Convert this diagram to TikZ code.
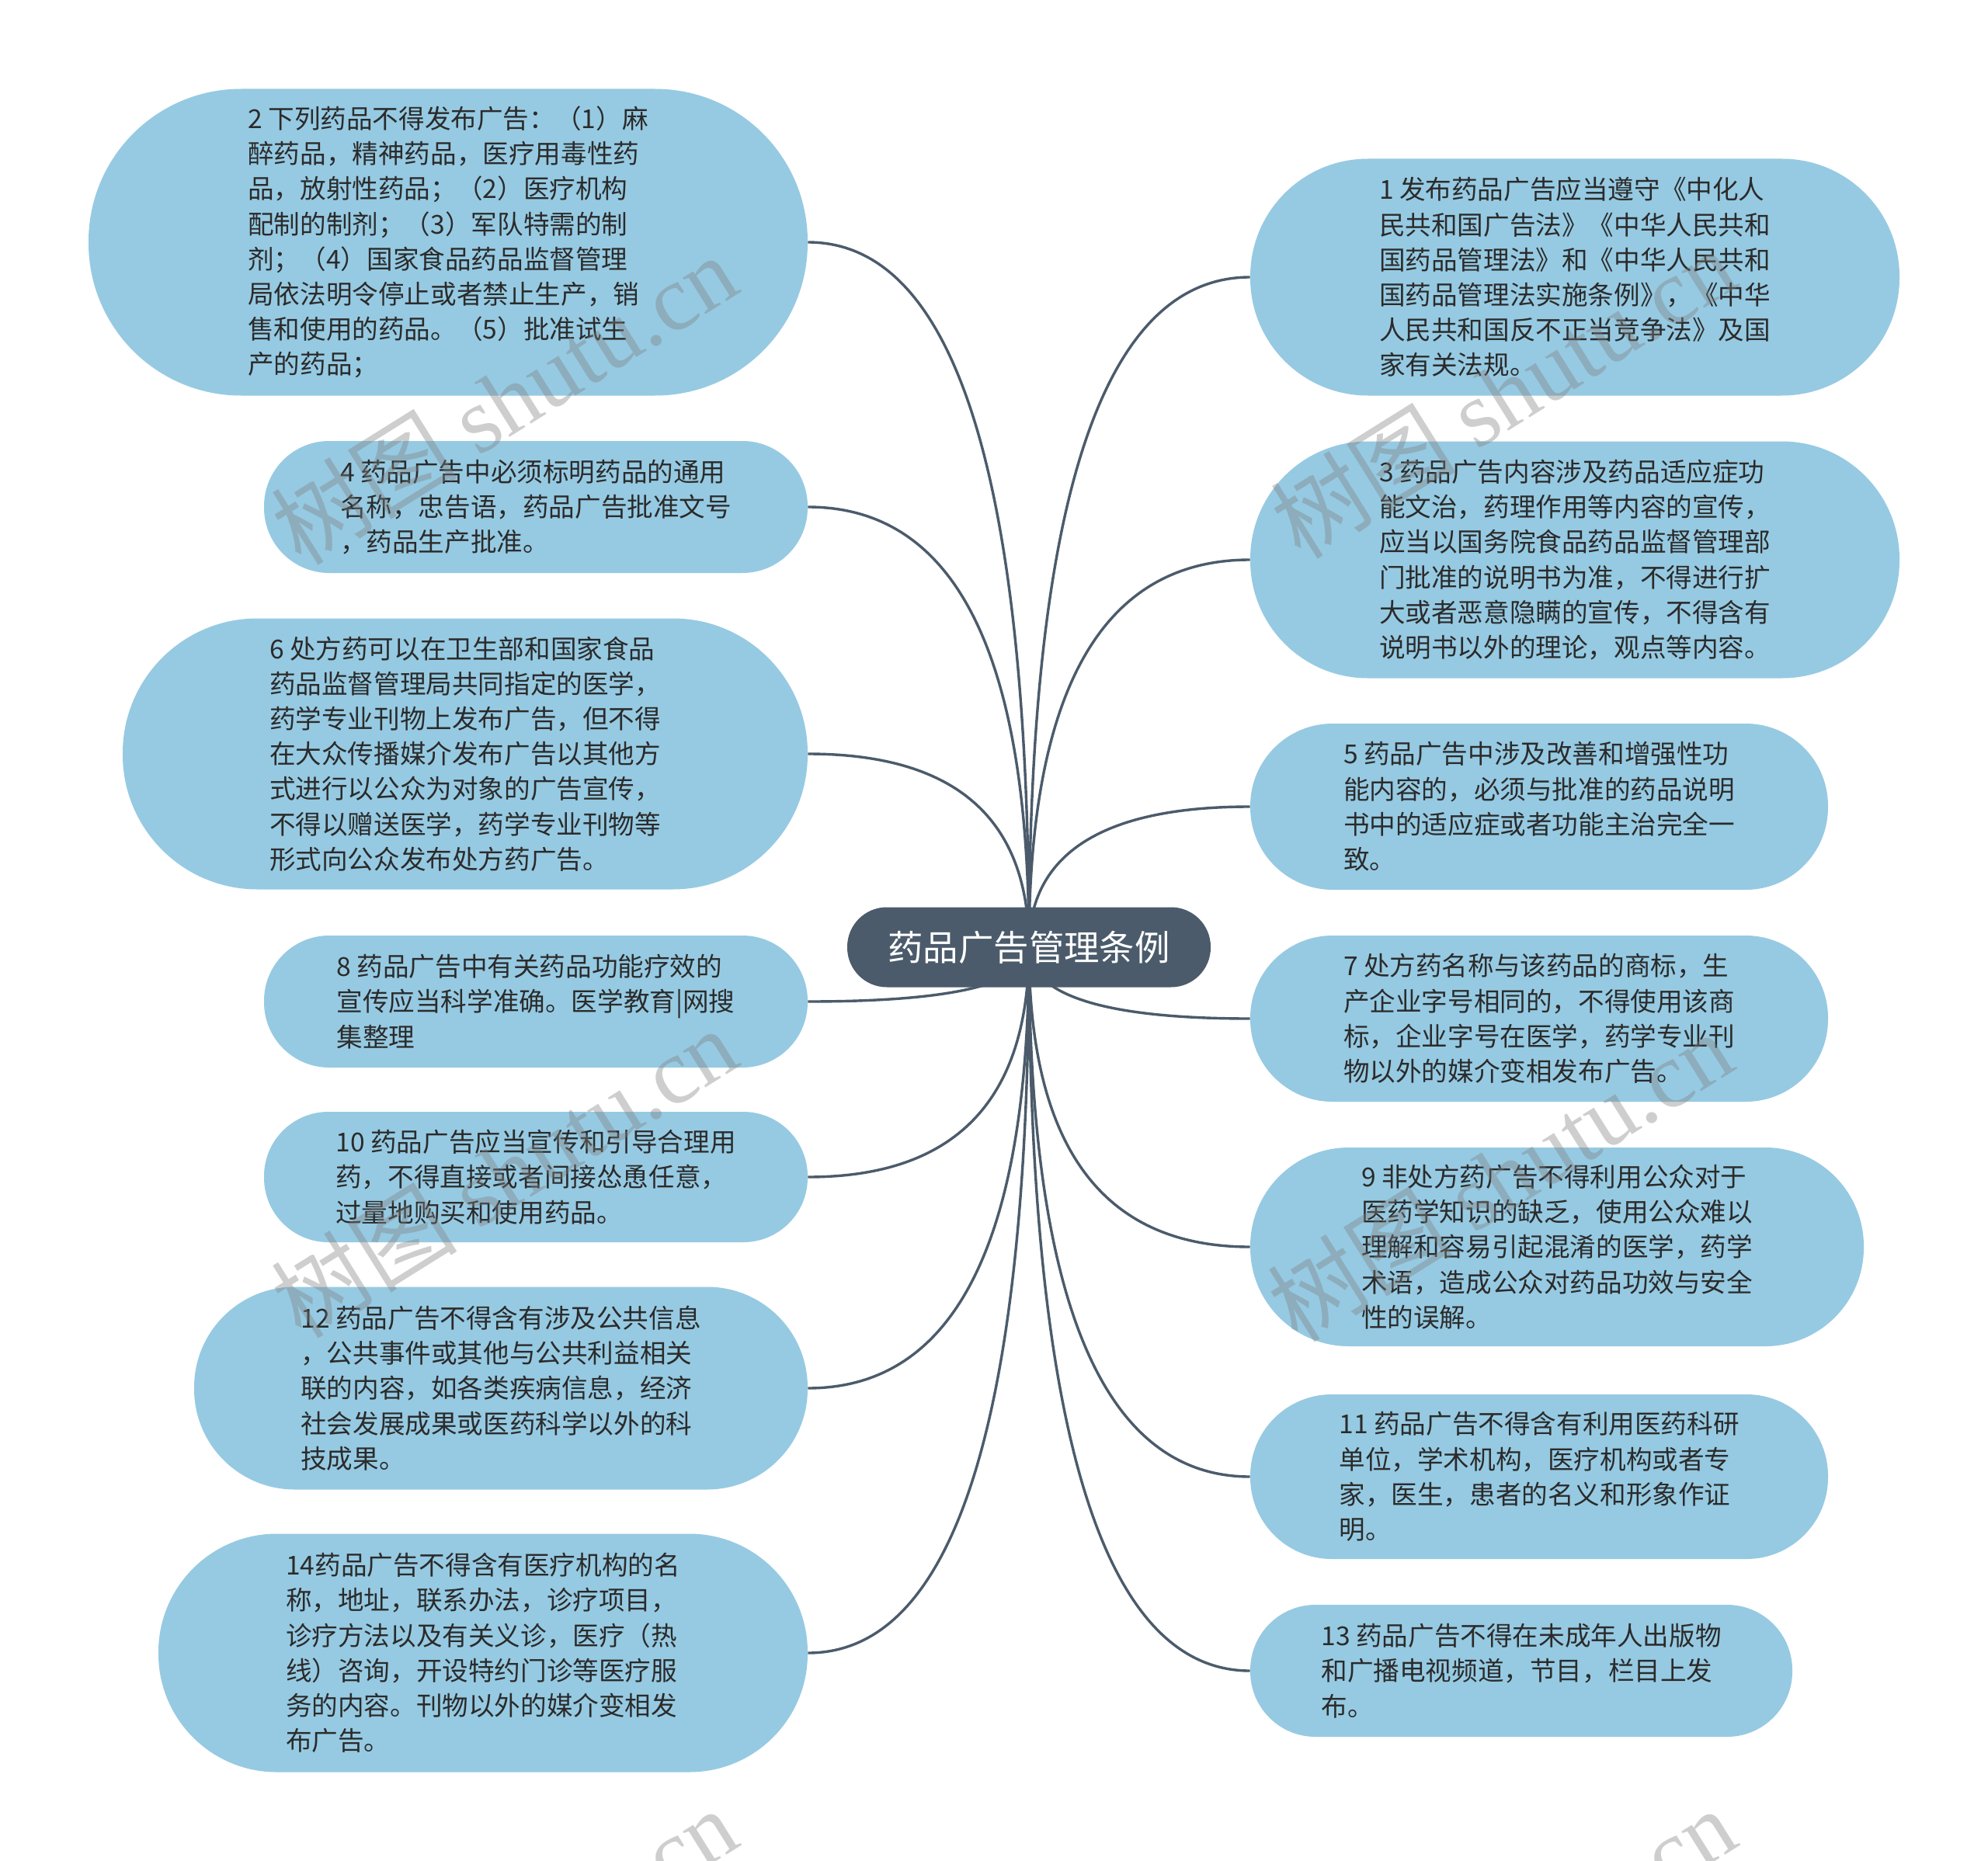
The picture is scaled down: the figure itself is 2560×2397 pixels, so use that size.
\documentclass[tikz,border=0pt]{standalone}
\usepackage{fontspec}
\setmainfont{Noto Sans CJK SC}
\newfontfamily\wmlatin{Liberation Serif}
\newfontfamily\wmcjk{Noto Sans CJK SC}
\usetikzlibrary{calc}
\pgfdeclarelayer{bg}
\pgfsetlayers{bg,main}
\definecolor{leafblue}{HTML}{96CAE2}
\definecolor{rootc}{HTML}{4B5B6B}
\definecolor{linec}{HTML}{4B5B6B}
\definecolor{txt}{HTML}{2B2B2B}
\tikzset{
  leaf/.style={fill=leafblue, text=txt, inner sep=0pt, align=left,
    font=\fontsize{16.8pt}{22.6pt}\selectfont},
  rootbox/.style={fill=rootc, text=white, inner sep=0pt,
    minimum width=234pt, minimum height=51.5pt, rounded corners=25.5pt,
    font=\fontsize{22.7pt}{27pt}\selectfont},
  conn/.style={draw=linec, line width=1.7pt},
  wm/.style={text=black!50, text opacity=0.38, rotate=32, inner sep=0pt,
    font=\fontsize{60pt}{70pt}\selectfont},
}
\newcommand\linkto[1]{%
  \coordinate (k) at (r.center |- #1);
  \draw[conn] (r.center) .. controls ($(r.center)!0.6667!(k)$) and ($(#1)!0.6667!(k)$) .. (#1);}
\begin{document}
\begin{tikzpicture}[x=0.5pt,y=-0.5pt]
\useasboundingbox (0,0) rectangle (2560,2397);
\begin{pgfonlayer}{bg}
\fill[white] (0,0) rectangle (2560,2397);
\end{pgfonlayer}

\node[rootbox] (r) at (1325,1220) {药品广告管理条例};

% left side
\node[leaf, minimum width=463pt, minimum height=197.5pt, rounded corners=98.2pt] (n2) at (577,312) {2 下列药品不得发布广告：（1）麻\\醉药品，精神药品，医疗用毒性药\\品，放射性药品；（2）医疗机构\\配制的制剂；（3）军队特需的制\\剂；（4）国家食品药品监督管理\\局依法明令停止或者禁止生产，销\\售和使用的药品。（5）批准试生\\产的药品；};
\node[leaf, minimum width=350pt, minimum height=85pt, rounded corners=42pt] (n4) at (690,653) {4 药品广告中必须标明药品的通用\\名称，忠告语，药品广告批准文号\\，药品生产批准。};
\node[leaf, minimum width=441pt, minimum height=174.5pt, rounded corners=86.7pt] (n6) at (599,971) {6 处方药可以在卫生部和国家食品\\药品监督管理局共同指定的医学，\\药学专业刊物上发布广告，但不得\\在大众传播媒介发布广告以其他方\\式进行以公众为对象的广告宣传，\\不得以赠送医学，药学专业刊物等\\形式向公众发布处方药广告。};
\node[leaf, minimum width=350pt, minimum height=85pt, rounded corners=42pt] (n8) at (690,1290) {8 药品广告中有关药品功能疗效的\\宣传应当科学准确。医学教育|网搜\\集整理};
\node[leaf, minimum width=350pt, minimum height=84pt, rounded corners=41.5pt] (n10) at (690,1516) {10 药品广告应当宣传和引导合理用\\药，不得直接或者间接怂恿任意，\\过量地购买和使用药品。};
\node[leaf, minimum width=395pt, minimum height=130.5pt, rounded corners=64.7pt] (n12) at (645,1788) {12 药品广告不得含有涉及公共信息\\，公共事件或其他与公共利益相关\\联的内容，如各类疾病信息，经济\\社会发展成果或医药科学以外的科\\技成果。};
\node[leaf, minimum width=418pt, minimum height=153.5pt, rounded corners=76.2pt] (n14) at (622,2129) {14药品广告不得含有医疗机构的名\\称，地址，联系办法，诊疗项目，\\诊疗方法以及有关义诊，医疗（热\\线）咨询，开设特约门诊等医疗服\\务的内容。刊物以外的媒介变相发\\布广告。};

% right side
\node[leaf, minimum width=418pt, minimum height=152.5pt, rounded corners=75.7pt] (n1) at (2028,357) {1 发布药品广告应当遵守《中化人\\民共和国广告法》《中华人民共和\\国药品管理法》和《中华人民共和\\国药品管理法实施条例》，《中华\\人民共和国反不正当竞争法》及国\\家有关法规。};
\node[leaf, minimum width=418pt, minimum height=152.5pt, rounded corners=75.7pt] (n3) at (2028,721) {3 药品广告内容涉及药品适应症功\\能文治，药理作用等内容的宣传，\\应当以国务院食品药品监督管理部\\门批准的说明书为准，不得进行扩\\大或者恶意隐瞒的宣传，不得含有\\说明书以外的理论，观点等内容。};
\node[leaf, minimum width=372pt, minimum height=107pt, rounded corners=53pt] (n5) at (1982,1039) {5 药品广告中涉及改善和增强性功\\能内容的，必须与批准的药品说明\\书中的适应症或者功能主治完全一\\致。};
\node[leaf, minimum width=372pt, minimum height=107pt, rounded corners=53pt] (n7) at (1982,1312) {7 处方药名称与该药品的商标，生\\产企业字号相同的，不得使用该商\\标，企业字号在医学，药学专业刊\\物以外的媒介变相发布广告。};
\node[leaf, minimum width=395pt, minimum height=128pt, rounded corners=63.5pt] (n9) at (2005,1606) {9 非处方药广告不得利用公众对于\\医药学知识的缺乏，使用公众难以\\理解和容易引起混淆的医学，药学\\术语，造成公众对药品功效与安全\\性的误解。};
\node[leaf, minimum width=372pt, minimum height=106pt, rounded corners=52.5pt] (n11) at (1982,1902) {11 药品广告不得含有利用医药科研\\单位，学术机构，医疗机构或者专\\家，医生，患者的名义和形象作证\\明。};
\node[leaf, minimum width=349pt, minimum height=85pt, rounded corners=42pt] (n13) at (1959,2152) {13 药品广告不得在未成年人出版物\\和广播电视频道，节目，栏目上发\\布。};

\begin{pgfonlayer}{bg}
\linkto{n2.east}
\linkto{n4.east}
\linkto{n6.east}
\linkto{n8.east}
\linkto{n10.east}
\linkto{n12.east}
\linkto{n14.east}
\linkto{n1.west}
\linkto{n3.west}
\linkto{n5.west}
\linkto{n7.west}
\linkto{n9.west}
\linkto{n11.west}
\linkto{n13.west}
\end{pgfonlayer}

% watermarks
\begin{scope}
\clip (0,0) rectangle (2560,2397);
\foreach \wx/\wy in {649/514,1935/506,649/1510,1931/1515,649/2515,1935/2515}
  \node[wm] at (\wx,\wy) {{\wmcjk 树图} {\wmlatin shutu.cn}};
\end{scope}
\end{tikzpicture}
\end{document}
